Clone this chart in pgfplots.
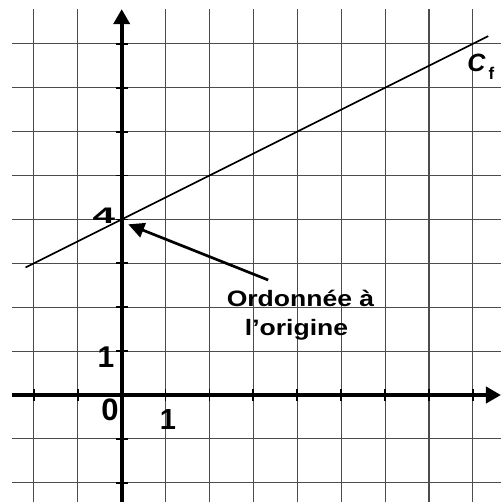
\documentclass[border=0pt]{standalone}
\usepackage{pgfplots}
\pgfplotsset{compat=1.18}
\usepackage{fontspec}
\setmainfont{Liberation Sans}[BoldFont={Liberation Sans Bold}, ItalicFont={Liberation Sans Italic}, BoldItalicFont={Liberation Sans Bold Italic}]
\newfontfamily\widefont{Liberation Sans Bold}[FakeStretch=1.19]
\newfontfamily\bfont{Liberation Sans Bold}
\newfontfamily\bifont{Liberation Sans Bold Italic}
\usetikzlibrary{arrows.meta}
\begin{document}
\begin{tikzpicture}
\begin{axis}[
  x=43.9pt, y=43.9pt,
  xmin=-2.5, xmax=8.64, ymin=-2.437, ymax=8.79,
  axis lines=middle,
  axis line style={line width=4.2pt, black, -{Triangle[length=15pt,width=16pt]}},
  xtick={-2,-1,0,1,2,3,4,5,6,7,8},
  ytick={-2,-1,0,1,2,3,4,5,6,7,8},
  xticklabels={}, yticklabels={},
  grid=major,
  major grid style={line width=1.1pt, black!70},
  tick align=center,
  major tick length=12pt,
  tick style={line width=1.8pt, black},
  clip=false,
]
\addplot[black, line width=1.7pt] coordinates {(-2.19,2.905) (8.35,8.175)};
\draw[black, line width=2.7pt, -{Triangle[length=16pt,width=15pt]}] (axis cs:3.337,2.62) -- (axis cs:0.150,3.888);
\node[font=\widefont\fontsize{22.3}{24}\selectfont, anchor=base] at (axis cs:4.073,2.011) {Ordonnée à};
\node[font=\widefont\fontsize{22.3}{24}\selectfont, anchor=base] at (axis cs:3.982,1.355) {l’origine};
\node[font=\bfont\fontsize{22.5}{24}\selectfont] at (axis cs:-0.403,4.089) {\scalebox{1.8}[1]{4}};
\node[font=\bfont\fontsize{30}{32}\selectfont] at (axis cs:-0.358,0.866) {1};
\node[font=\bfont\fontsize{31}{32}\selectfont] at (axis cs:-0.267,-0.342) {0};
\node[font=\bfont\fontsize{29}{32}\selectfont] at (axis cs:1.055,-0.569) {1};
\node[font=\bifont\fontsize{25}{26}\selectfont] at (axis cs:8.08,7.56) {C};
\node[font=\bfont\fontsize{17}{19}\selectfont] at (axis cs:8.42,7.33) {f};
\coordinate (bl) at (axis cs:-2.772,-2.437);
\coordinate (tr) at (axis cs:8.64,8.998);
\end{axis}
\pgfresetboundingbox
\path (bl) rectangle (tr);
\end{tikzpicture}
\end{document}
